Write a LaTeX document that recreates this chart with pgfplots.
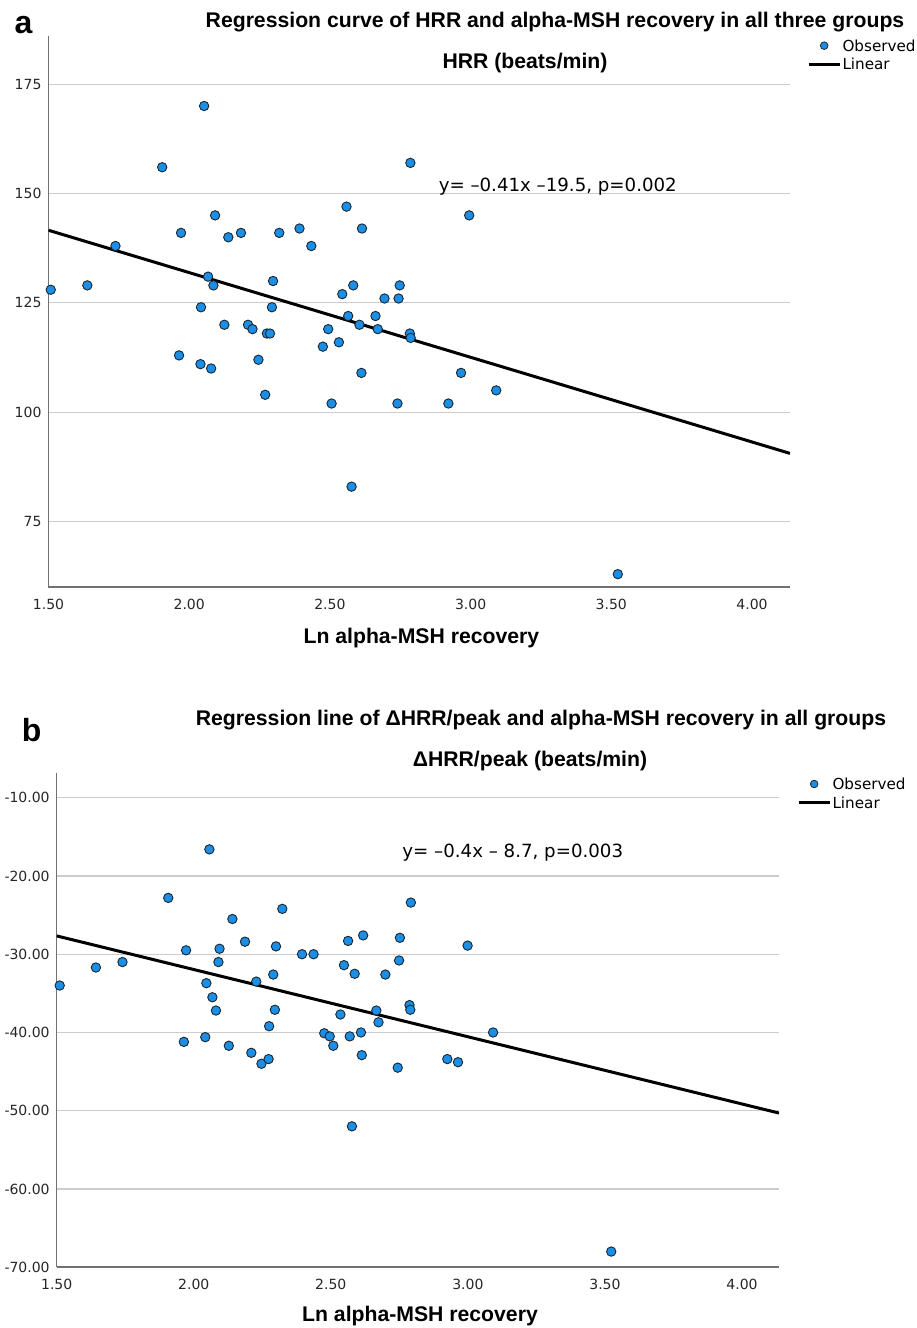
\documentclass[border=0pt]{standalone}
\usepackage{fontspec}
\setmainfont{DejaVu Sans}
\newfontfamily\boldsans{Liberation Sans}
\usepackage{pgfplots}
\pgfplotsset{compat=1.18}
\definecolor{obs}{HTML}{1B8FE6}
\definecolor{obsedge}{HTML}{1A2530}
\definecolor{gridc}{HTML}{CCCCCC}
\definecolor{axc}{HTML}{707070}

\pgfplotsset{
  spss/.style={
    scale only axis,
    axis x line*=bottom, axis y line*=left,
    axis line style={axc, line width=0.8pt, -},
    xmin=1.5, xmax=4.135,
    xtick={1.5,2,2.5,3,3.5,4},
    major tick length=0pt,
    ymajorgrids, grid style={gridc, line width=0.6pt},
    tick label style={font=\fontsize{7}{8}\selectfont, text=black!85},
    /pgf/number format/assume math mode=true,
    xticklabel style={yshift=-2.2pt, /pgf/number format/fixed, /pgf/number format/fixed zerofill, /pgf/number format/precision=2},
    legend style={draw=none, fill=none, font=\fontsize{7.6}{9}\selectfont,
      inner sep=0pt, row sep=2pt, column sep=0pt,
      nodes={inner sep=0.6pt, text height=5.8pt, text depth=0.3pt}},
    legend cell align=left,
    legend image code/.code={\draw[mark repeat=2,mark phase=2,##1] plot coordinates {(0pt,0pt)(7.8pt,0pt)(15.6pt,0pt)};},
  },
  obsmark/.style={only marks, mark=*, mark size=2.35pt,
    mark options={fill=obs, draw=obsedge, line width=0.45pt}},
}

\begin{document}
\begin{tikzpicture}
\useasboundingbox (0,0) rectangle (458pt,664pt);

% ---------------- panel a ----------------
\begin{axis}[spss,
  at={(24.25pt,370.35pt)}, anchor=south west,
  width=370.75pt, height=275.65pt,
  ymin=60, ymax=186,
  ytick={75,100,125,150,175},
  yticklabel style={/pgf/number format/fixed, /pgf/number format/precision=0},
  legend style={at={(1.0225,0.9964)}, anchor=north west},
]
\addplot[black, line width=1.5pt, forget plot] coordinates {(1.5,141.6) (4.135,90.6)};
\addplot[obsmark, forget plot] coordinates {
(1.508,128) (1.638,129) (1.738,138) (1.904,156) (1.971,141) (1.964,113)
(2.053,170) (2.042,124) (2.040,111) (2.067,131) (2.086,129) (2.078,110)
(2.092,145) (2.125,120) (2.139,140) (2.184,141) (2.209,120) (2.225,119)
(2.246,112) (2.270,104) (2.276,118) (2.287,118) (2.294,124) (2.298,130)
(2.320,141) (2.392,142) (2.434,138) (2.475,115) (2.494,119) (2.506,102)
(2.532,116) (2.544,127) (2.559,147) (2.565,122) (2.583,129) (2.577,83)
(2.605,120) (2.612,109) (2.614,142) (2.662,122) (2.670,119) (2.694,126)
(2.740,102) (2.744,126) (2.748,129) (2.784,118) (2.787,117) (2.786,157)
(2.921,102) (2.966,109) (2.995,145) (3.091,105) (3.523,63)
};
\addlegendimage{only marks, mark=*, mark size=1.9pt, mark options={fill=obs, draw=obsedge, line width=0.4pt}}
\addlegendentry{Observed}
\addlegendimage{black, line width=1.5pt}
\addlegendentry{Linear}
\end{axis}

% ---------------- panel b ----------------
\begin{axis}[spss,
  at={(28.35pt,30.4pt)}, anchor=south west,
  width=361.15pt, height=247.25pt,
  ymin=-70, ymax=-6.8,
  ytick={-70,-60,-50,-40,-30,-20,-10},
  yticklabel style={/pgf/number format/fixed, /pgf/number format/fixed zerofill, /pgf/number format/precision=2},
  legend style={at={(1.0245,0.9927)}, anchor=north west},
]
\addplot[black, line width=1.5pt, forget plot] coordinates {(1.5,-27.66) (4.135,-50.3)};
\addplot[obsmark, forget plot] coordinates {
(1.511,-34.0) (1.643,-31.7) (1.740,-31.0) (1.907,-22.8) (1.972,-29.5) (1.964,-41.2)
(2.057,-16.6) (2.046,-33.7) (2.042,-40.6) (2.068,-35.5) (2.094,-29.3) (2.090,-31.0)
(2.081,-37.2) (2.128,-41.7) (2.141,-25.5) (2.187,-28.4) (2.210,-42.6) (2.228,-33.5)
(2.247,-44.0) (2.275,-39.2) (2.273,-43.4) (2.290,-32.6) (2.296,-37.1) (2.300,-29.0)
(2.323,-24.2) (2.395,-30.0) (2.437,-30.0) (2.476,-40.1) (2.496,-40.5) (2.509,-41.7)
(2.535,-37.7) (2.548,-31.4) (2.563,-28.3) (2.569,-40.5) (2.587,-32.5) (2.577,-52.0)
(2.610,-40.0) (2.613,-42.9) (2.618,-27.6) (2.666,-37.2) (2.674,-38.7) (2.699,-32.6)
(2.744,-44.5) (2.749,-30.8) (2.752,-27.9) (2.787,-36.5) (2.790,-37.1) (2.792,-23.4)
(2.925,-43.4) (2.964,-43.8) (2.999,-28.9) (3.092,-40.0) (3.523,-68.0)
};
\addlegendimage{only marks, mark=*, mark size=1.9pt, mark options={fill=obs, draw=obsedge, line width=0.4pt}}
\addlegendentry{Observed}
\addlegendimage{black, line width=1.5pt}
\addlegendentry{Linear}
\end{axis}

% ---------------- texts ----------------
\node[anchor=base, font=\boldsans\bfseries\fontsize{16}{18}\selectfont, inner sep=0pt] at (11.75pt,647.3pt) {a};
\node[anchor=base, font=\boldsans\bfseries\fontsize{10.6}{12}\selectfont, inner sep=0pt] at (277.5pt,650pt) {Regression curve of HRR and alpha-MSH recovery in all three groups};
\node[anchor=base, font=\boldsans\bfseries\fontsize{10.6}{12}\selectfont, inner sep=0pt] at (262.5pt,629.5pt) {HRR (beats/min)};
\node[anchor=base, font=\fontsize{9.1}{11}\selectfont, inner sep=0pt] at (278.9pt,568.2pt) {y= –0.41x –19.5, p=0.002};
\node[anchor=base, font=\boldsans\bfseries\fontsize{10.6}{12}\selectfont, inner sep=0pt] at (210.7pt,342.4pt) {Ln alpha-MSH recovery};

\node[anchor=base, font=\boldsans\bfseries\fontsize{16}{18}\selectfont, inner sep=0pt] at (15.85pt,293.15pt) {b};
\node[anchor=base, font=\boldsans\bfseries\fontsize{10.6}{12}\selectfont, inner sep=0pt] at (270.5pt,301.25pt) {Regression line of ΔHRR/peak and alpha-MSH recovery in all groups};
\node[anchor=base, font=\boldsans\bfseries\fontsize{10.6}{12}\selectfont, inner sep=0pt] at (265pt,280.5pt) {ΔHRR/peak (beats/min)};
\node[anchor=base, font=\fontsize{9.1}{11}\selectfont, inner sep=0pt] at (256.4pt,235.35pt) {y= –0.4x – 8.7, p=0.003};
\node[anchor=base, font=\boldsans\bfseries\fontsize{10.6}{12}\selectfont, inner sep=0pt] at (210pt,3pt) {Ln alpha-MSH recovery};
\end{tikzpicture}
\end{document}
